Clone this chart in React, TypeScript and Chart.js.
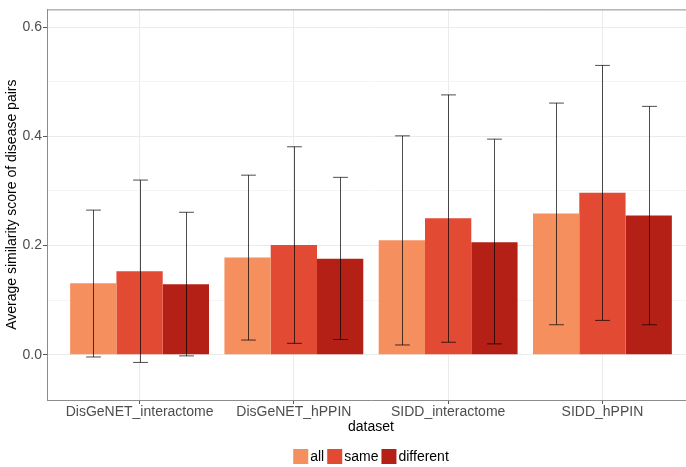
import React, { useEffect, useRef } from "react";
import { Chart, registerables } from "chart.js";

Chart.register(...registerables);

const categories = ["DisGeNET_interactome", "DisGeNET_hPPIN", "SIDD_interactome", "SIDD_hPPIN"];
const seriesNames = ["all", "same", "different"];
const seriesColors = ["#F68F5E", "#E34A33", "#B42016"];

const allMeans = [0.131, 0.178, 0.21, 0.259];
const sameMeans = [0.153, 0.201, 0.25, 0.297];
const diffMeans = [0.129, 0.176, 0.206, 0.255];

const allLow = [-0.004, 0.027, 0.018, 0.055];
const allHigh = [0.265, 0.329, 0.401, 0.461];
const sameLow = [-0.014, 0.021, 0.023, 0.063];
const sameHigh = [0.32, 0.381, 0.476, 0.53];
const diffLow = [-0.002, 0.028, 0.02, 0.055];
const diffHigh = [0.261, 0.325, 0.395, 0.455];

const yTickValues = [0, 0.1, 0.2, 0.3, 0.4, 0.5, 0.6];
const yMajorTicks = [0, 0.2, 0.4, 0.6];
const xTickValues = [0, 1, 2, 3];

const FONT = "'Liberation Sans', Arial, sans-serif";

const isMajor = (v: number) => yMajorTicks.some((m) => Math.abs(m - v) < 1e-6);

const errorBarPlugin = {
  id: "errorBars",
  afterDatasetsDraw(chart: any) {
    const ctx = chart.ctx;
    const yScale = chart.scales.y;
    chart.data.datasets.forEach((ds: any, i: number) => {
      const meta = chart.getDatasetMeta(i);
      meta.data.forEach((bar: any, j: number) => {
        const lo = yScale.getPixelForValue(ds.errLow[j]);
        const hi = yScale.getPixelForValue(ds.errHigh[j]);
        const x = Math.round(bar.x) + 0.5;
        const half = bar.width * 0.16;
        ctx.save();
        ctx.strokeStyle = "rgba(0,0,0,0.7)";
        ctx.lineWidth = 1;
        ctx.beginPath();
        ctx.moveTo(x, hi);
        ctx.lineTo(x, lo);
        ctx.moveTo(x - half, hi);
        ctx.lineTo(x + half, hi);
        ctx.moveTo(x - half, lo);
        ctx.lineTo(x + half, lo);
        ctx.stroke();
        ctx.restore();
      });
    });
  },
};

const frameLegendPlugin = {
  id: "frameLegend",
  afterDraw(chart: any) {
    const ctx = chart.ctx;
    const area = chart.chartArea;
    ctx.save();
    ctx.strokeStyle = "#8C8C8C";
    ctx.lineWidth = 1;
    ctx.beginPath();
    ctx.moveTo(area.left, area.top + 0.5);
    ctx.lineTo(area.right, area.top + 0.5);
    ctx.stroke();

    ctx.font = `14px ${FONT}`;
    ctx.textBaseline = "middle";
    ctx.textAlign = "left";
    const box = 15;
    const gapText = 2;
    const gapItem = 3;
    const widths = seriesNames.map((n) => box + gapText + ctx.measureText(n).width);
    const total = widths.reduce((a, b) => a + b, 0) + gapItem * (widths.length - 1);
    let x = (area.left + area.right) / 2 - total / 2;
    const yTop = 449;
    seriesNames.forEach((n, i) => {
      ctx.fillStyle = seriesColors[i];
      ctx.fillRect(x, yTop, box, box);
      ctx.fillStyle = "#000";
      ctx.fillText(n, x + box + gapText, yTop + box / 2 + 0.5);
      x += widths[i] + gapItem;
    });
    ctx.restore();
  },
};

export default function App() {
  const ref = useRef<HTMLCanvasElement | null>(null);
  useEffect(() => {
    if (!ref.current) return;
    const means = [allMeans, sameMeans, diffMeans];
    const lows = [allLow, sameLow, diffLow];
    const highs = [allHigh, sameHigh, diffHigh];
    const chart = new Chart(ref.current, {
      type: "bar",
      data: {
        datasets: seriesNames.map((name, i) => ({
          label: name,
          data: means[i].map((v, j) => ({ x: xTickValues[j], y: v })),
          backgroundColor: seriesColors[i],
          borderWidth: 0,
          categoryPercentage: 0.9,
          barPercentage: 1.0,
          errLow: lows[i],
          errHigh: highs[i],
        })) as any,
      },
      options: {
        responsive: false,
        animation: false,
        layout: { padding: { left: 0, top: 5, right: 15, bottom: 31 } },
        plugins: { legend: { display: false }, tooltip: { enabled: false } },
        scales: {
          x: {
            type: "linear",
            min: -0.6,
            max: 3.6,
            offset: false,
            afterBuildTicks: (scale: any) => {
              scale.ticks = xTickValues.map((v) => ({ value: v }));
            },
            afterFit: (scale: any) => {
              scale.height = 36;
            },
            grid: { offset: false, color: "#EBEBEB", tickColor: "#555", tickLength: 4, lineWidth: 1 },
            border: { color: "#8C8C8C", width: 1 },
            ticks: {
              autoSkip: false,
              maxRotation: 0,
              padding: 0,
              color: "#4D4D4D",
              font: { family: FONT, size: 14 },
              callback: (v: any) => categories[Math.round(Number(v))] ?? "",
            },
            title: {
              display: true,
              text: "dataset",
              color: "#000",
              font: { family: FONT, size: 14 },
              padding: { top: 0, bottom: 0 },
            },
          },
          y: {
            min: -0.0828,
            max: 0.6326,
            afterBuildTicks: (scale: any) => {
              scale.ticks = yTickValues.map((v) => ({ value: v }));
            },
            afterFit: (scale: any) => {
              scale.width = 47;
            },
            grid: {
              color: (c: any) => (c.tick && isMajor(c.tick.value) ? "#EBEBEB" : "#F4F4F4"),
              tickColor: (c: any) => (c.tick && isMajor(c.tick.value) ? "#555" : "rgba(0,0,0,0)"),
              tickLength: 4,
              lineWidth: 1,
            },
            border: { color: "#8C8C8C", width: 1 },
            ticks: {
              padding: 1,
              color: "#4D4D4D",
              font: { family: FONT, size: 14 },
              callback: (v: any) => (isMajor(Number(v)) ? Number(v).toFixed(1) : ""),
            },
            title: {
              display: true,
              text: "Average similarity score of disease pairs",
              color: "#000",
              font: { family: FONT, size: 14 },
              padding: { top: 4, bottom: 0 },
            },
          },
        },
      },
      plugins: [errorBarPlugin, frameLegendPlugin],
    });
    return () => chart.destroy();
  }, []);

  return (
    <div style={{ position: "fixed", left: 0, top: 0, width: 686, height: 467, overflow: "hidden", background: "#fff" }}>
      <canvas ref={ref} width={710} height={467} style={{ display: "block" }} />
    </div>
  );
}
